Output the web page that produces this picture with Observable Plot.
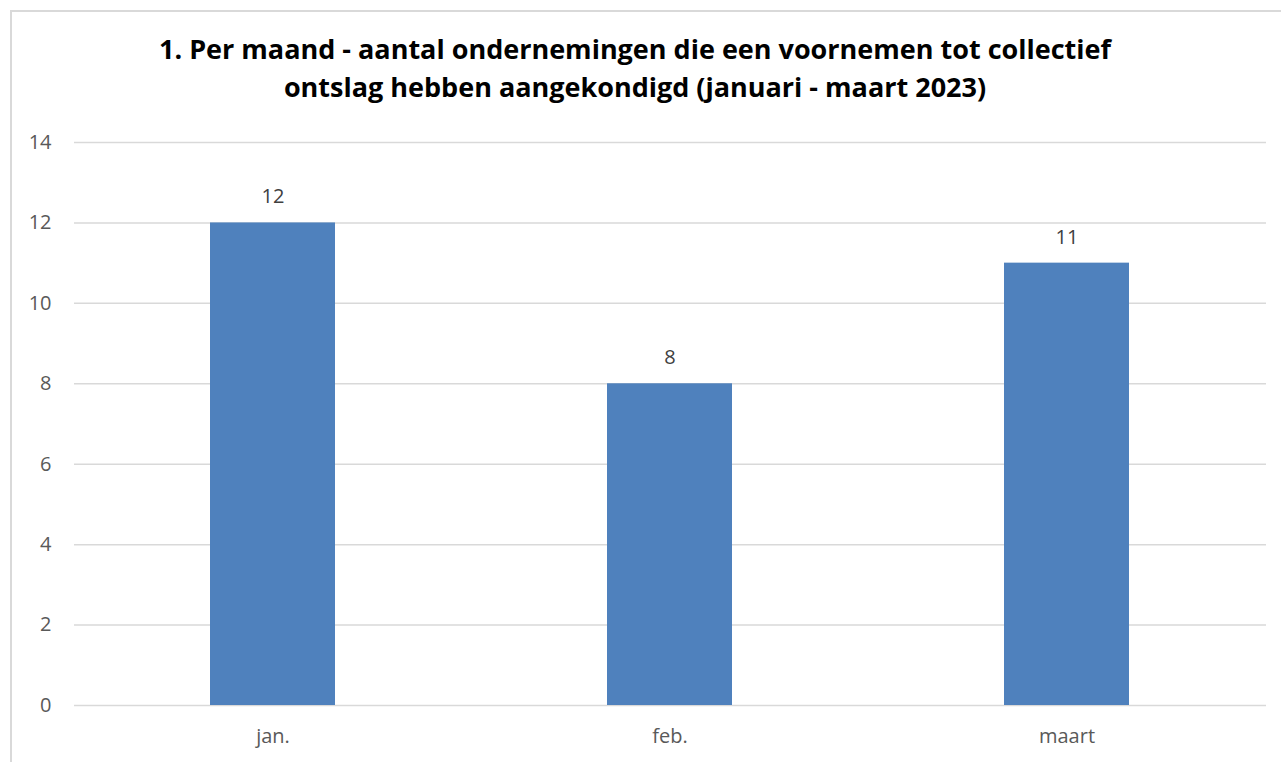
<!DOCTYPE html>
<html><head><meta charset="utf-8">
<script src="https://cdn.jsdelivr.net/npm/d3@7"></script>
<script src="https://cdn.jsdelivr.net/npm/@observablehq/plot@0.6"></script>
<style>
html,body{margin:0;padding:0;background:#fff;}
#wrap{position:relative;width:1281px;height:762px;overflow:hidden;font-family:"Open Sans",Lato,sans-serif;}
#frame{position:absolute;left:10px;top:10px;width:1290px;height:800px;border-top:2px solid #d9d9d9;border-left:2px solid #d9d9d9;box-sizing:border-box;}
#title{position:relative;height:110px;box-sizing:border-box;padding-top:30px;width:1270px;text-align:center;font-weight:bold;font-size:27px;line-height:38px;color:#000;}
#chart{position:relative;}
</style></head>
<body>
<div id="wrap">
<div id="frame"></div>
<div id="title">1. Per maand - aantal ondernemingen die een voornemen tot collectief<br>ontslag hebben aangekondigd (januari - maart 2023)</div>
<div id="chart"></div>
</div>
<script>
const months = ["jan.", "feb.", "maart"];
const counts = [12, 8, 11];
const yTicks = [0, 2, 4, 6, 8, 10, 12, 14];

const data = months.map((m, i) => ({month: m, count: counts[i]}));

const plot = Plot.plot({
  width: 1281,
  height: 652,
  marginTop: 32,
  marginBottom: 57,
  marginLeft: 74,
  marginRight: 15,
  style: {fontFamily: "'Open Sans', Lato, sans-serif", background: "transparent"},
  x: {domain: months, paddingInner: 0.685, paddingOuter: 0.3425, label: null},
  y: {domain: [0, 14], label: null},
  marks: [
    Plot.ruleY(yTicks, {stroke: "#d9d9d9", strokeWidth: 1.5}),
    Plot.barY(data, {x: "month", y: "count", fill: "#4f81bd"}),
    Plot.text(data, {x: "month", y: "count", text: d => String(d.count), dy: -26, fill: "#404040", fontSize: 20}),
    Plot.axisY({ticks: yTicks, tickSize: 0, tickPadding: 23, fontSize: 20, color: "#595959", label: null}),
    Plot.axisX({tickSize: 0, tickPadding: 23, fontSize: 20, color: "#595959", label: null})
  ]
});
document.getElementById("chart").appendChild(plot);
</script>
</body></html>
